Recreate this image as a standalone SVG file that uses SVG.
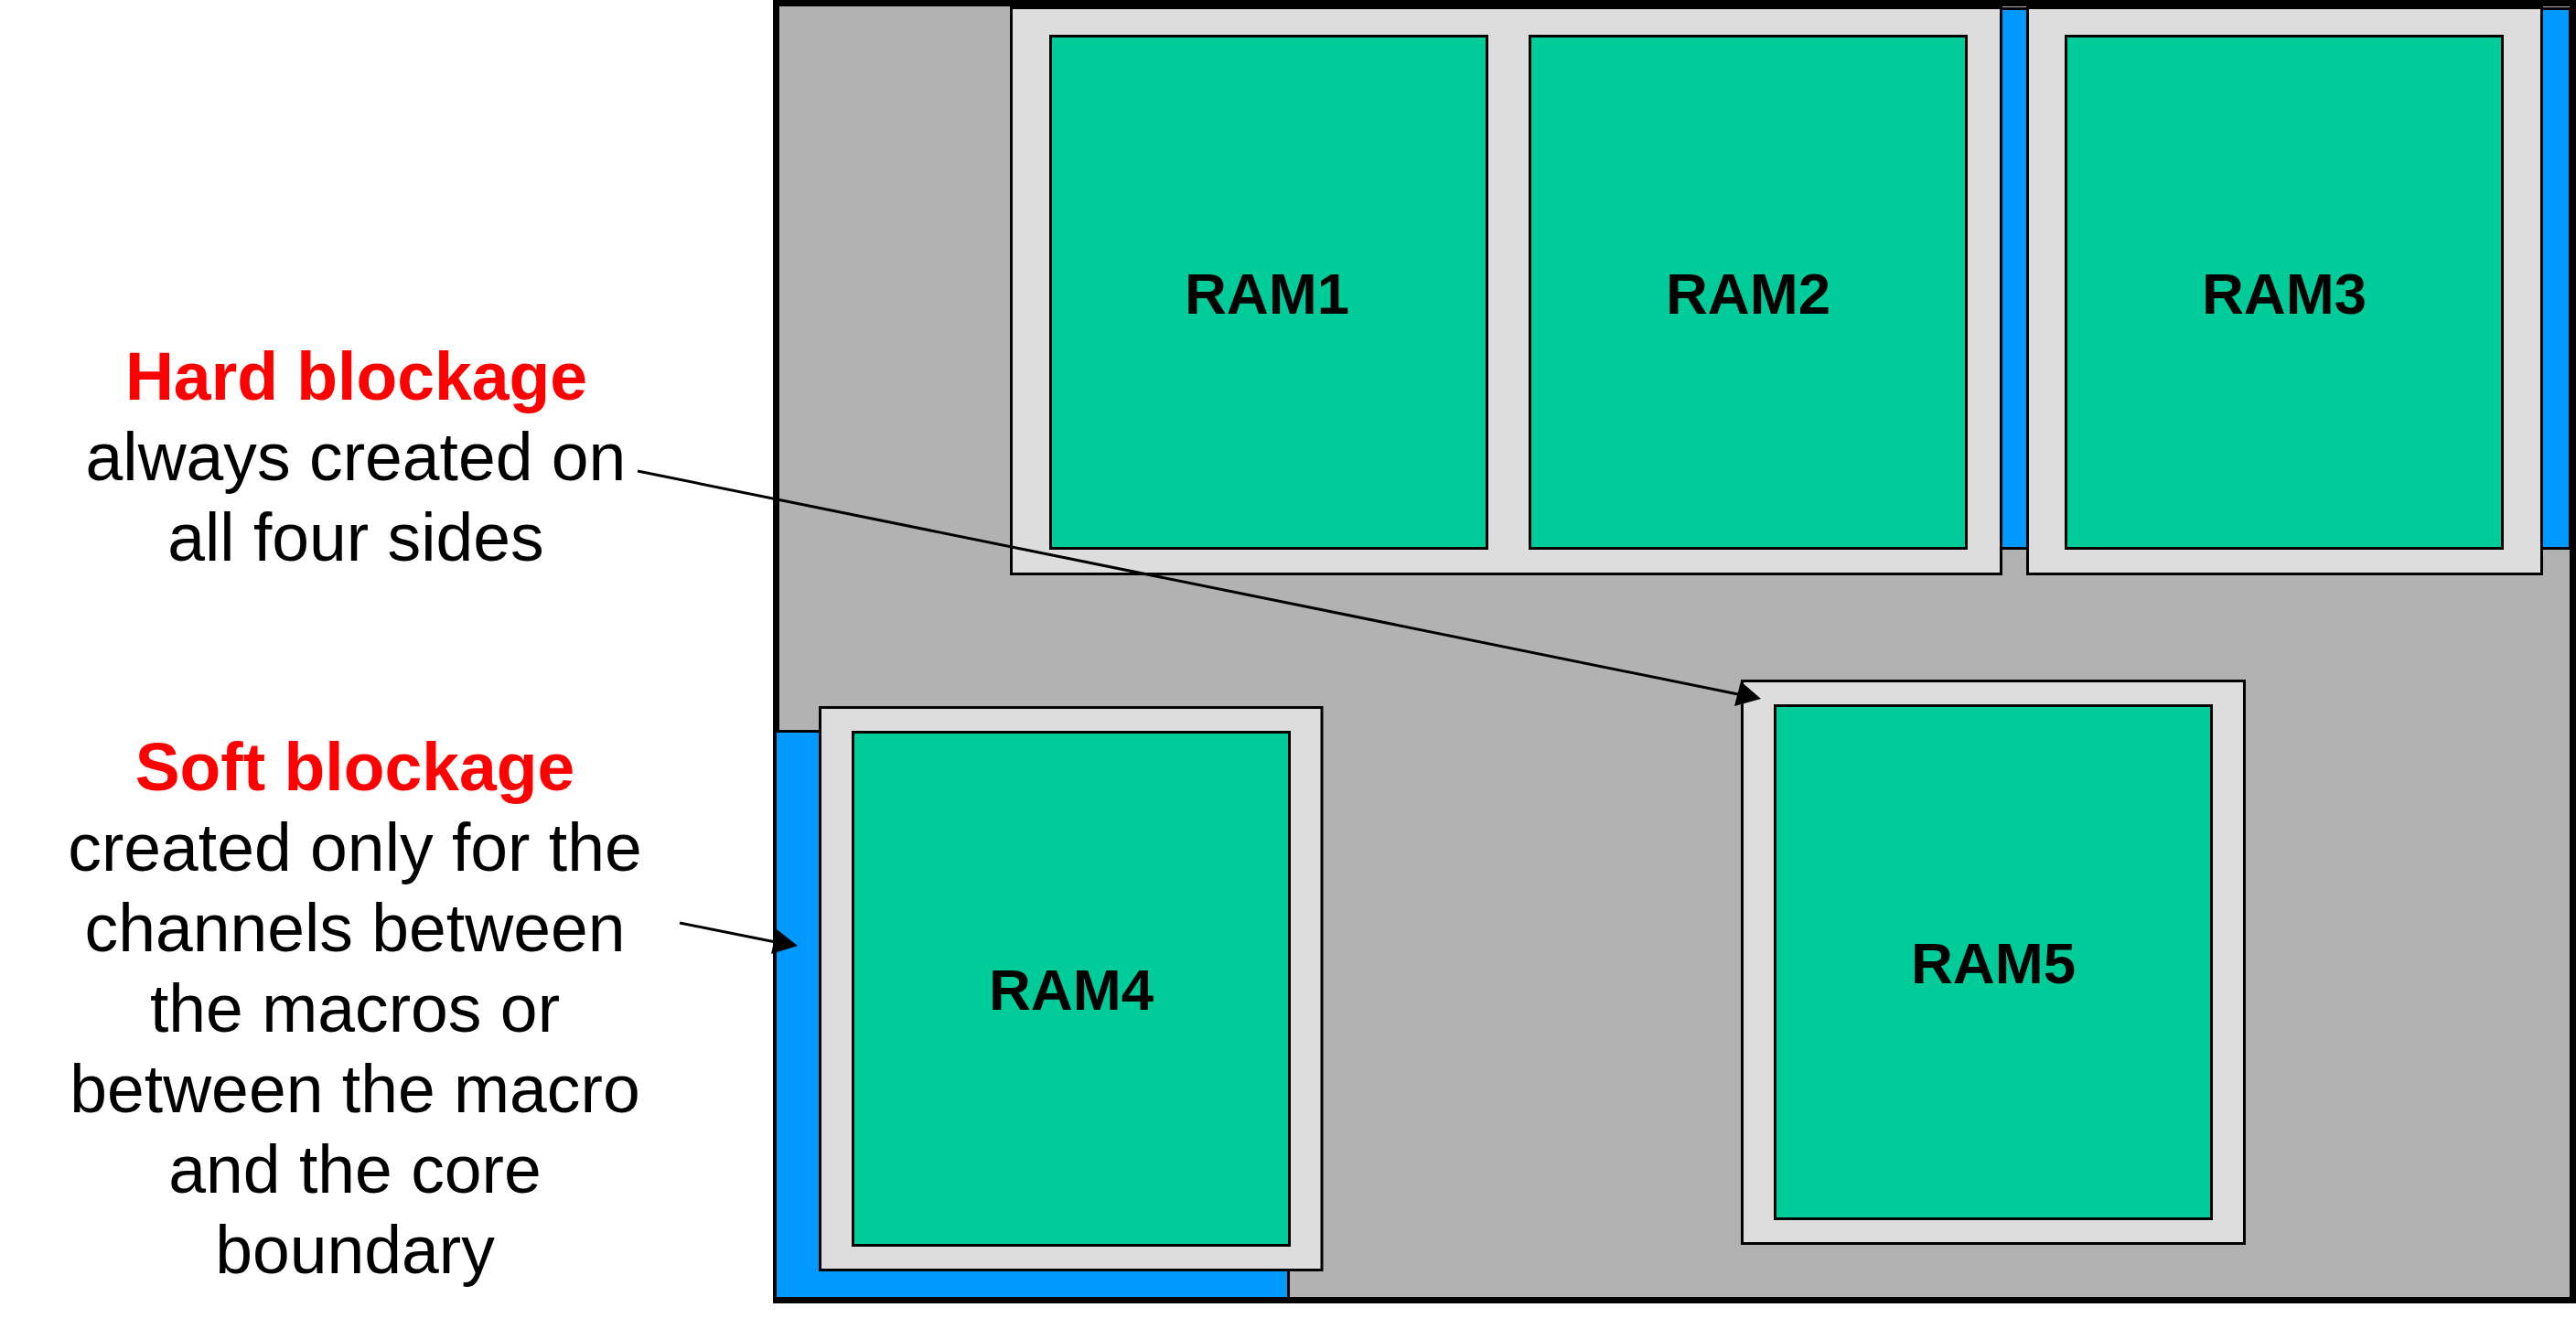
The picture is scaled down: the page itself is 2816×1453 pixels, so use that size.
<svg xmlns="http://www.w3.org/2000/svg" width="2816" height="1453" viewBox="0 0 2816 1453">
<defs>
<style>
.hard{fill:#dddddd;stroke:#000;stroke-width:3}
.ram{fill:#00cc99;stroke:#000;stroke-width:3}
.soft{fill:#0099ff;stroke:#000;stroke-width:3}
.lbl{font-family:"Liberation Sans",Arial,sans-serif;font-size:63.6px;font-weight:bold;fill:#000;text-anchor:middle}
.txt{font-family:"Liberation Sans",Arial,sans-serif;font-size:73.3px;fill:#000;text-anchor:middle}
.red{font-family:"Liberation Sans",Arial,sans-serif;font-size:73.3px;font-weight:bold;fill:#ff0000;text-anchor:middle}
.ln{stroke:#000;stroke-width:3;fill:none}
</style>
</defs>
<rect width="2816" height="1453" fill="#fff"/>
<g id="core"><rect x="848.5" y="3.5" width="1964" height="1418" fill="#b2b2b2" stroke="#000" stroke-width="7"/></g>
<g id="soft-blockage">
<rect class="soft" x="2187.5" y="9.5" width="29" height="590"/>
<rect class="soft" x="2778.5" y="9.5" width="31" height="590"/>
<rect class="soft" x="847.5" y="799.5" width="561" height="620"/>
</g>
<g id="hard-blockage-top"><rect class="hard" x="1105.5" y="8.5" width="1082" height="619"/></g>
<g id="hard-blockage-ram3"><rect class="hard" x="2216.5" y="8.5" width="562" height="619"/></g>
<g id="ram1"><rect class="ram" x="1148.5" y="39.5" width="477" height="560"/><text class="lbl" x="1385" y="342.5">RAM1</text></g>
<g id="ram2"><rect class="ram" x="1672.5" y="39.5" width="477" height="560"/><text class="lbl" x="1911" y="342.5">RAM2</text></g>
<g id="ram3"><rect class="ram" x="2258.5" y="39.5" width="477" height="560"/><text class="lbl" x="2497" y="342.5">RAM3</text></g>
<g id="ram4"><rect class="hard" x="896.5" y="773.5" width="548.5" height="615"/><rect class="ram" x="932.5" y="800.5" width="477" height="561"/><text class="lbl" x="1171" y="1103.5">RAM4</text></g>
<g id="ram5"><rect class="hard" x="1904.5" y="744.5" width="549" height="615"/><rect class="ram" x="1940.5" y="771.5" width="477" height="561"/><text class="lbl" x="2179" y="1074.5">RAM5</text></g>
<g id="hard-label"><text class="red" x="389.5" y="437">Hard blockage</text><text class="txt" x="389" y="525">always created on</text><text class="txt" x="389" y="612.5">all four sides</text></g>
<g id="soft-label"><text class="red" x="388" y="864">Soft blockage</text><text class="txt" x="388" y="952">created only for the</text><text class="txt" x="388" y="1040">channels between</text><text class="txt" x="388" y="1127.5">the macros or</text><text class="txt" x="388" y="1216">between the macro</text><text class="txt" x="388" y="1304">and the core</text><text class="txt" x="388" y="1391.5">boundary</text></g>
<g id="connectors">
<path class="ln" d="M697 515L1900 759"/><path d="M1925 764L1896 772L1903 745Z" fill="#000"/>
<path class="ln" d="M743 1009L848 1030"/><path d="M872 1034L843 1043L849 1016Z" fill="#000"/>
</g>
</svg>
